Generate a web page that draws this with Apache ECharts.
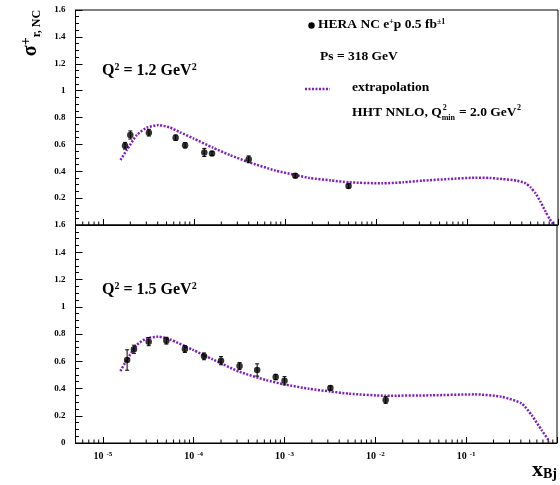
<!DOCTYPE html>
<html><head><meta charset="utf-8">
<script src="https://cdn.jsdelivr.net/npm/echarts@6/dist/echarts.min.js"></script>
<style>html,body{margin:0;padding:0;background:#fff}#c{width:560px;height:485px}</style>
</head><body><div id="c"></div>
<script>
// ---- data ----
const topPointsX = [1.75e-5, 2.0e-5, 3.2e-5, 6.3e-5, 8.0e-5, 1.3e-4, 1.58e-4, 4.0e-4, 1.3e-3, 5.0e-3];
const topPointsY = [0.59, 0.67, 0.687, 0.65, 0.593, 0.54, 0.533, 0.489, 0.367, 0.29];
const topPointsErr = [0.025, 0.03, 0.025, 0.02, 0.02, 0.03, 0.015, 0.025, 0.015, 0.015];

const botPointsX = [1.85e-5, 2.2e-5, 3.2e-5, 5.0e-5, 8.0e-5, 1.3e-4, 2.0e-4, 3.2e-4, 5.0e-4, 8.0e-4, 1.0e-3, 3.2e-3, 1.3e-2];
const botPointsY = [0.609, 0.688, 0.744, 0.751, 0.69, 0.636, 0.604, 0.565, 0.536, 0.484, 0.457, 0.404, 0.316];
const botPointsErr = [0.075, 0.03, 0.03, 0.025, 0.025, 0.025, 0.03, 0.025, 0.045, 0.02, 0.03, 0.015, 0.025];

const topCurveX = [1.56e-5, 1.83e-5, 2.36e-5, 3.03e-5, 4.07e-5, 5.46e-5, 7.03e-5, 9.84e-5, 1.62e-4, 2.5e-4, 3.98e-4, 7.9e-4, 1.31e-3, 1.86e-3, 3.2e-3, 5.0e-3, 1.17e-2, 2.0e-2, 3.24e-2, 6.3e-2, 0.123, 0.178, 0.245, 0.355, 0.44, 0.5, 0.566, 0.645, 0.73, 0.81, 0.90];
const topCurveY = [0.484, 0.558, 0.67, 0.724, 0.744, 0.725, 0.69, 0.645, 0.575, 0.52, 0.468, 0.405, 0.372, 0.35, 0.332, 0.318, 0.31, 0.318, 0.33, 0.342, 0.352, 0.35, 0.342, 0.33, 0.31, 0.28, 0.236, 0.17, 0.099, 0.045, 0.0];

const botCurveX = [1.56e-5, 1.83e-5, 2.36e-5, 3.03e-5, 4.07e-5, 5.46e-5, 9.84e-5, 1.62e-4, 3.19e-4, 6.25e-4, 1.0e-3, 1.86e-3, 3.19e-3, 5.13e-3, 1.3e-2, 4.17e-2, 0.125, 0.245, 0.407, 0.525, 0.676, 0.83];
const botCurveY = [0.528, 0.609, 0.719, 0.768, 0.78, 0.761, 0.683, 0.614, 0.523, 0.462, 0.43, 0.398, 0.378, 0.362, 0.347, 0.35, 0.357, 0.34, 0.291, 0.205, 0.095, 0.01];

const yTickLabels = ['0', '0.2', '0.4', '0.6', '0.8', '1', '1.2', '1.4', '1.6'];
const xDecades = [1e-6, 1e-5, 1e-4, 1e-3, 1e-2, 1e-1];
const xMinorMultipliers = [2, 3, 4, 5, 6, 7, 8, 9];

// ---- styling ----
const FONT = '"Liberation Serif", "Times New Roman", serif';
const PURPLE = '#7e1cc4';
const X_MIN = 5e-6, X_MAX = 1;

const minorTickValues = [];
xDecades.forEach(d => xMinorMultipliers.forEach(m => {
  const v = m * d;
  if (v > X_MIN * 1.0001 && v < X_MAX) minorTickValues.push(v);
}));

function zip(xs, ys) { return xs.map((x, i) => [x, ys[i]]); }
function zip3(xs, ys, es) { return xs.map((x, i) => [x, ys[i], es[i]]); }

function xAxisCfg(gridIndex, showLabels) {
  return {
    type: 'log', logBase: 10, gridIndex, min: X_MIN, max: X_MAX,
    axisLine: { show: true, lineStyle: { color: '#000', width: 1 } },
    axisTick: { show: true, inside: true, length: 6, lineStyle: { color: '#000' } },
    splitLine: { show: false },
    axisLabel: {
      show: showLabels, margin: 8,
      formatter: v => {
        const e = Math.log10(v);
        if (Math.abs(e - Math.round(e)) > 1e-6 || Math.round(e) >= 0) return '';
        return '{b|10}{e|' + Math.round(e) + '}';
      },
      rich: {
        b: { fontFamily: FONT, fontWeight: 'bold', fontSize: 10, color: '#000' },
        e: { fontFamily: FONT, fontWeight: 'bold', fontSize: 7, color: '#000', verticalAlign: 'top', padding: [0, 0, 0, 3] }
      }
    }
  };
}
function yAxisCfg(gridIndex, hideZero) {
  return {
    type: 'value', gridIndex, min: 0, max: 1.6, interval: 0.2,
    axisLine: { show: true, lineStyle: { color: '#000', width: 1 } },
    axisTick: { show: true, inside: true, length: 7, lineStyle: { color: '#000' } },
    minorTick: { show: true, splitNumber: 4, length: 3.5, lineStyle: { color: '#000' } },
    splitLine: { show: false },
    axisLabel: {
      margin: 10, fontFamily: FONT, fontWeight: 'bold', fontSize: 9, color: '#000',
      formatter: v => {
        const i = Math.round(v / 0.2);
        if (hideZero && i === 0) return '';
        return yTickLabels[i];
      }
    }
  };
}

function errRender(params, api) {
  const x = api.value(0), y = api.value(1), e = api.value(2);
  const lo = api.coord([x, y - e]), hi = api.coord([x, y + e]);
  const c = 2;
  return {
    type: 'group', children: [
      { type: 'line', shape: { x1: lo[0], y1: lo[1], x2: hi[0], y2: hi[1] }, style: { stroke: '#000', lineWidth: 1 } },
      { type: 'line', shape: { x1: lo[0] - c, y1: lo[1], x2: lo[0] + c, y2: lo[1] }, style: { stroke: '#000', lineWidth: 1 } },
      { type: 'line', shape: { x1: hi[0] - c, y1: hi[1], x2: hi[0] + c, y2: hi[1] }, style: { stroke: '#000', lineWidth: 1 } }
    ]
  };
}
function minorTickRender(params, api) {
  const p = api.coord([api.value(0), 0]);
  return { type: 'line', shape: { x1: p[0], y1: p[1], x2: p[0], y2: p[1] - 3.5 }, style: { stroke: '#000', lineWidth: 1 } };
}

function panelSeries(idx, px, py, pe, cx, cy) {
  return [
    { type: 'line', xAxisIndex: idx, yAxisIndex: idx, data: zip(cx, cy), showSymbol: false, smooth: 0.2,
      lineStyle: { color: PURPLE, width: 2.5, type: [2, 1.5] }, z: 2, silent: true },
    { type: 'custom', xAxisIndex: idx, yAxisIndex: idx, data: zip3(px, py, pe), renderItem: errRender, z: 3, silent: true },
    { type: 'scatter', xAxisIndex: idx, yAxisIndex: idx, data: zip(px, py), symbol: 'circle', symbolSize: 6.5,
      itemStyle: { color: '#000' }, z: 4, silent: true },
    { type: 'custom', xAxisIndex: idx, yAxisIndex: idx, data: minorTickValues.map(v => [v]), renderItem: minorTickRender,
      clip: false, z: 5, silent: true }
  ];
}

const chart = echarts.init(document.getElementById('c'), null, { renderer: 'canvas' });

// measure text for the stacked sup/sub label
const mctx = document.createElement('canvas').getContext('2d');
function textW(t, size) { mctx.font = 'bold ' + size + 'px ' + FONT; return mctx.measureText(t).width; }
const LS = 13.5;
const hhtX = 352, hhtY = 113;
const w1 = textW('HHT NNLO, Q', LS);
const w2 = textW('min', 8);

const txt = (text, x, y, size, extra) => Object.assign({
  type: 'text', silent: true,
  style: Object.assign({ text, x, y, fontFamily: FONT, fontWeight: 'bold', fontSize: size, fill: '#000', verticalAlign: 'middle' }, extra || {})
});
const richQ = {
  t: { fontFamily: FONT, fontWeight: 'bold', fontSize: 16, color: '#000', lineHeight: 18 },
  s: { fontFamily: FONT, fontWeight: 'bold', fontSize: 10, color: '#000', verticalAlign: 'top', lineHeight: 10 }
};

chart.setOption({
  animation: false,
  backgroundColor: '#fff',
  grid: [
    { left: 75.5, top: 10, right: 2, height: 215, show: true, borderColor: '#000', borderWidth: 1, containLabel: false },
    { left: 75.5, top: 225, right: 2, height: 218, show: true, borderColor: '#000', borderWidth: 1, containLabel: false }
  ],
  xAxis: [xAxisCfg(0, false), xAxisCfg(1, true)],
  yAxis: [yAxisCfg(0, true), yAxisCfg(1, false)],
  series: [].concat(
    panelSeries(0, topPointsX, topPointsY, topPointsErr, topCurveX, topCurveY),
    panelSeries(1, botPointsX, botPointsY, botPointsErr, botCurveX, botCurveY)
  ),
  graphic: [
    { type: 'circle', silent: true, shape: { cx: 311.5, cy: 25.5, r: 3.2 }, style: { fill: '#000' } },
    { type: 'text', silent: true, style: { x: 318, y: 25, verticalAlign: 'middle',
        text: '{t|HERA NC e}{s|+}{t|p 0.5 fb}{s|±1}',
        rich: { t: { fontFamily: FONT, fontWeight: 'bold', fontSize: LS, color: '#000', lineHeight: 15 },
                s: { fontFamily: FONT, fontWeight: 'bold', fontSize: 8, color: '#000', verticalAlign: 'top', lineHeight: 8 } } } },
    txt('Ps = 318 GeV', 320, 57, LS),
    { type: 'line', silent: true, shape: { x1: 305, y1: 89, x2: 330, y2: 89 }, style: { stroke: PURPLE, lineWidth: 2.5, lineDash: [2, 1.5] } },
    txt('extrapolation', 352, 88, LS),
    txt('HHT NNLO, Q', hhtX, hhtY, LS),
    txt('2', hhtX + w1 + 1, hhtY - 5, 8),
    txt('min', hhtX + w1, hhtY + 5, 8),
    txt('= 2.0 GeV', hhtX + w1 + w2 + 4, hhtY, LS),
    txt('2', hhtX + w1 + w2 + 4 + textW('= 2.0 GeV', LS) + 0.5, hhtY - 5, 8),
    { type: 'text', silent: true, style: { x: 102, y: 71, verticalAlign: 'middle', text: '{t|Q}{s|2}{t| = 1.2 GeV}{s|2}', rich: richQ } },
    { type: 'text', silent: true, style: { x: 102, y: 290, verticalAlign: 'middle', text: '{t|Q}{s|2}{t| = 1.5 GeV}{s|2}', rich: richQ } },
    { type: 'text', silent: true, x: 31, y: 33, rotation: Math.PI / 2,
      style: { x: 0, y: 0, align: 'center', verticalAlign: 'middle',
        text: '{g|σ}{p|+}{b|r, NC}',
        rich: { g: { fontFamily: FONT, fontWeight: 'bold', fontSize: 20, color: '#000', lineHeight: 24 },
                p: { fontFamily: FONT, fontWeight: 'bold', fontSize: 14, color: '#000', verticalAlign: 'top', lineHeight: 12 },
                b: { fontFamily: FONT, fontWeight: 'bold', fontSize: 12, color: '#000', verticalAlign: 'bottom', lineHeight: 12 } } } },
    { type: 'text', silent: true, style: { x: 532, y: 470, verticalAlign: 'middle',
        text: '{x|x}{b|Bj}',
        rich: { x: { fontFamily: FONT, fontWeight: 'bold', fontSize: 22, color: '#000', lineHeight: 22 },
                b: { fontFamily: FONT, fontWeight: 'bold', fontSize: 14, color: '#000', verticalAlign: 'bottom', lineHeight: 12 } } } }
  ]
});
</script></body></html>
